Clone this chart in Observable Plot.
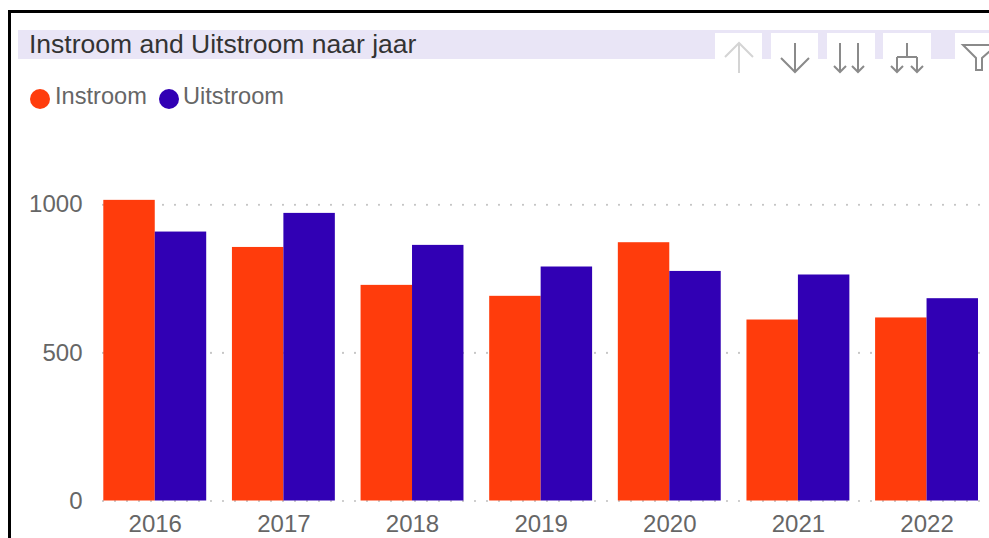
<!DOCTYPE html>
<html>
<head>
<meta charset="utf-8">
<script src="https://cdn.jsdelivr.net/npm/d3@7"></script>
<script src="https://cdn.jsdelivr.net/npm/@observablehq/plot@0.6"></script>
<style>
  html, body { margin: 0; padding: 0; background: #fff; }
  body { width: 989px; height: 538px; position: relative; overflow: hidden; font-family: "Liberation Sans", Arial, sans-serif; }
  #frame { position: absolute; left: 8px; top: 10px; width: 990px; height: 540px; border-top: 3px solid #000; border-left: 3px solid #000; box-sizing: border-box; }
  #titlebar { position: absolute; left: 18px; top: 30px; width: 975px; height: 29px; background: #e9e5f6; }
  #title { position: absolute; left: 29px; top: 31px; font-size: 26.5px; line-height: 26px; color: #333; white-space: nowrap; }
  .leg { position: absolute; top: 84px; font-size: 23.6px; line-height: 24px; color: #666; white-space: nowrap; }
  .dot { position: absolute; top: 89px; width: 20px; height: 20px; border-radius: 50%; }
  #chrome { position: absolute; left: 0; top: 0; }
  #grid, #bars { position: absolute; left: 0; top: 150px; }
</style>
</head>
<body>
<div id="frame"></div>
<div id="titlebar"></div>
<div id="title">Instroom and Uitstroom naar jaar</div>
<div id="legend"></div>
<svg id="chrome" width="989" height="120" fill="none">
  <rect x="715" y="33" width="47" height="27" fill="#fff"/>
  <rect x="771" y="33" width="47" height="27" fill="#fff"/>
  <rect x="827" y="33" width="48" height="27" fill="#fff"/>
  <rect x="883" y="33" width="48" height="27" fill="#fff"/>
  <rect x="955" y="33" width="40" height="27" fill="#fff"/>
  <g stroke="#d4d4d4" stroke-width="2">
    <path d="M739 43V73M725 57L739 43L753 57"/>
  </g>
  <g stroke="#8a8a8a" stroke-width="2">
    <path d="M795 43V72M781 58L795 72L809 58"/>
    <path d="M840 43V72M834 66L840 72L846 66"/>
    <path d="M858 43V72M852 66L858 72L864 66"/>
    <path d="M907 43V57M897 57H917M897 57V72M917 57V72M891 66L897 72L903 66M911 66L917 72L923 66"/>
    <path d="M963 45H997L982 58V70H976V58Z"/>
  </g>
</svg>
<div id="grid"></div>
<div id="bars"></div>
<script>
const years = ["2016", "2017", "2018", "2019", "2020", "2021", "2022"];
const series = ["Instroom", "Uitstroom"];
const instroom = [1015, 856, 728, 691, 872, 611, 618];
const uitstroom = [908, 971, 863, 790, 775, 763, 683];
const colors = ["#ff3c0c", "#3100b4"];
const yTicks = [0, 500, 1000];

// legend
const legend = document.getElementById("legend");
const legX = [[30, 55], [159, 183]];
series.forEach((s, i) => {
  const d = document.createElement("div");
  d.className = "dot";
  d.style.left = legX[i][0] + "px";
  d.style.background = colors[i];
  legend.appendChild(d);
  const t = document.createElement("div");
  t.className = "leg";
  t.style.left = legX[i][1] + "px";
  t.textContent = s;
  legend.appendChild(t);
});

const rows = [];
years.forEach((y, i) => {
  rows.push({year: y, series: series[0], value: instroom[i]});
  rows.push({year: y, series: series[1], value: uitstroom[i]});
});

const W = 989, H = 388, MT = 54.3, MB = 37.5;

const grid = Plot.plot({
  width: W, height: H,
  marginTop: MT, marginBottom: MB, marginLeft: 103, marginRight: 7,
  style: {fontFamily: "'Liberation Sans', Arial, sans-serif", fontSize: "24px", color: "#666", background: "transparent"},
  y: {domain: [0, 1000], nice: false, ticks: yTicks, tickFormat: d => String(d), tickSize: 0, tickPadding: 21, label: null},
  marks: [
    Plot.ruleY(yTicks, {stroke: "#c4c4c4", strokeWidth: 2.2, strokeDasharray: "0,12", strokeLinecap: "round"})
  ]
});
document.getElementById("grid").appendChild(grid);

const bars = Plot.plot({
  width: W, height: H,
  marginTop: MT, marginBottom: MB, marginLeft: 103.3, marginRight: 11,
  style: {fontFamily: "'Liberation Sans', Arial, sans-serif", fontSize: "24px", color: "#666", background: "transparent"},
  facet: {data: rows, x: "year"},
  fx: {domain: years, paddingInner: 0.2, paddingOuter: 0, round: false, axis: "bottom", tickSize: 0, tickPadding: 13.5, label: null},
  x: {domain: series, padding: 0, round: false, axis: null},
  y: {domain: [0, 1000], nice: false, axis: null},
  color: {domain: series, range: colors},
  marks: [
    Plot.barY(rows, {x: "series", y: "value", fill: "series", inset: 0})
  ]
});
document.getElementById("bars").appendChild(bars);
</script>
</body>
</html>
